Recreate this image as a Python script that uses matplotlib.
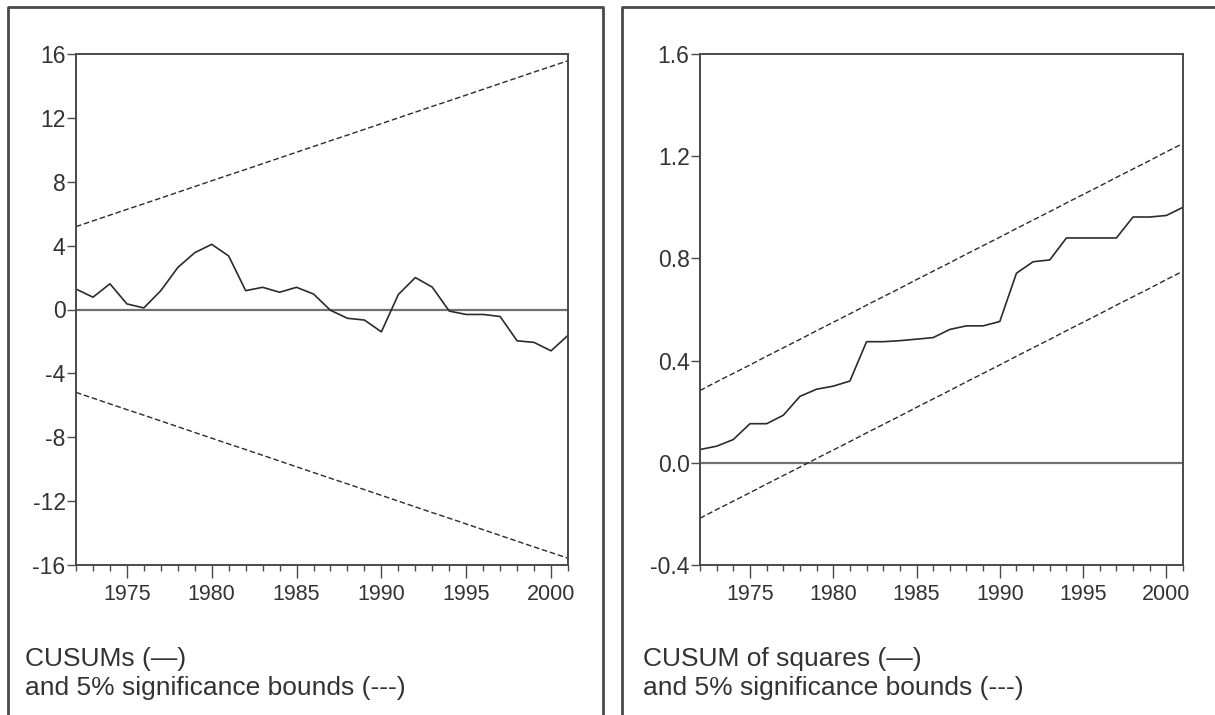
import matplotlib
matplotlib.use("Agg")
import matplotlib.pyplot as plt
from matplotlib.lines import Line2D
from matplotlib.ticker import MultipleLocator

plt.rcParams['font.family'] = ['Liberation Sans', 'DejaVu Sans']

years = list(range(1972, 2002))

# CUSUM test
cusum = [1.28, 0.77, 1.61, 0.35, 0.10, 1.18, 2.63, 3.56, 4.08, 3.35,
         1.18, 1.39, 1.08, 1.39, 0.97, -0.05, -0.55, -0.66, -1.40, 0.94,
         2.00, 1.40, -0.10, -0.31, -0.31, -0.44, -1.96, -2.06, -2.59, -1.62]
cusum_upper = [5.19, 5.55, 5.91, 6.27, 6.62, 6.98, 7.34, 7.70, 8.06, 8.42,
               8.77, 9.13, 9.49, 9.85, 10.21, 10.57, 10.92, 11.28, 11.64, 12.00,
               12.36, 12.72, 13.07, 13.43, 13.79, 14.15, 14.51, 14.87, 15.22, 15.58]
cusum_lower = [-5.19, -5.55, -5.91, -6.27, -6.62, -6.98, -7.34, -7.70, -8.06, -8.42,
               -8.77, -9.13, -9.49, -9.85, -10.21, -10.57, -10.92, -11.28, -11.64, -12.00,
               -12.36, -12.72, -13.07, -13.43, -13.79, -14.15, -14.51, -14.87, -15.22, -15.58]
cusum_ticks = [16, 12, 8, 4, 0, -4, -8, -12, -16]
cusum_ticklabels = ["16", "12", "8", "4", "0", "-4", "-8", "-12", "-16"]

# CUSUM of squares test
cusumsq = [0.052, 0.065, 0.091, 0.153, 0.153, 0.186, 0.260, 0.288, 0.300, 0.320,
           0.474, 0.474, 0.478, 0.484, 0.490, 0.522, 0.536, 0.536, 0.553, 0.742,
           0.787, 0.794, 0.880, 0.880, 0.880, 0.880, 0.962, 0.962, 0.968, 1.000]
sq_upper = [0.283, 0.317, 0.350, 0.383, 0.417, 0.450, 0.483, 0.517, 0.550, 0.583,
            0.617, 0.650, 0.683, 0.717, 0.750, 0.783, 0.817, 0.850, 0.883, 0.917,
            0.950, 0.983, 1.017, 1.050, 1.083, 1.117, 1.150, 1.183, 1.217, 1.250]
sq_lower = [-0.217, -0.183, -0.150, -0.117, -0.083, -0.050, -0.017, 0.017, 0.050, 0.083,
            0.117, 0.150, 0.183, 0.217, 0.250, 0.283, 0.317, 0.350, 0.383, 0.417,
            0.450, 0.483, 0.517, 0.550, 0.583, 0.617, 0.650, 0.683, 0.717, 0.750]
sq_ticks = [1.6, 1.2, 0.8, 0.4, 0.0, -0.4]
sq_ticklabels = ["1.6", "1.2", "0.8", "0.4", "0.0", "-0.4"]

x_ticks = [1975, 1980, 1985, 1990, 1995, 2000]

W, H = 1215, 715
fig = plt.figure(figsize=(W / 100, H / 100), dpi=100)

ink = "#2b2b2b"
frame_col = "#4a4a4a"


def px(x0, y0, x1, y1):
    # pixel box -> figure fraction [left, bottom, width, height]
    return [x0 / W, 1 - y1 / H, (x1 - x0) / W, (y1 - y0) / H]


def panel(rect, solid, upper, lower, ylim, yticks, yticklabels):
    ax = fig.add_axes(rect)
    ax.plot(years, solid, color=ink, lw=1.2)
    ax.plot(years, upper, color=ink, lw=1.0, ls=(0, (4, 2)))
    ax.plot(years, lower, color=ink, lw=1.0, ls=(0, (4, 2)))
    ax.axhline(0, color="#707070", lw=1.6, zorder=1)
    ax.set_xlim(1972, 2001)
    ax.set_ylim(*ylim)
    ax.set_yticks(yticks)
    ax.set_yticklabels(yticklabels)
    ax.set_xticks(x_ticks)
    ax.set_xticklabels([str(t) for t in x_ticks])
    ax.xaxis.set_minor_locator(MultipleLocator(1))
    ax.tick_params(axis="y", direction="out", length=6.5, width=1.0, pad=1,
                   labelsize=16.5, colors=frame_col, labelcolor="#333333")
    ax.tick_params(axis="x", which="major", direction="out", length=9, width=1.0,
                   pad=5, labelsize=15.5, colors=frame_col, labelcolor="#333333")
    ax.tick_params(axis="x", which="minor", direction="out", length=4.5, width=1.0,
                   colors=frame_col)
    for s in ax.spines.values():
        s.set_color(frame_col)
        s.set_linewidth(1.4)
    return ax


panel(px(76, 54, 568, 565), cusum, cusum_upper, cusum_lower,
      (-16, 16), cusum_ticks, cusum_ticklabels)
panel(px(700, 54, 1183, 565), cusumsq, sq_upper, sq_lower,
      (-0.4, 1.6), sq_ticks, sq_ticklabels)

# panel frames (open at the bottom)
def fline(xs, ys):
    fig.add_artist(Line2D([x / W for x in xs], [1 - y / H for y in ys],
                          color=frame_col, lw=2.0, transform=fig.transFigure))

fline([8, 8, 603, 603], [720, 7, 7, 720])
fline([622, 622, 1220], [720, 7, 7])

txt = dict(fontsize=19, color="#333333", va="baseline", ha="left")
fig.text(25 / W, 1 - 666 / H, "CUSUMs (\u2014)", **txt)
fig.text(25 / W, 1 - 695 / H, "and 5% significance bounds (---)", **txt)
fig.text(643 / W, 1 - 666 / H, "CUSUM of squares (\u2014)", **txt)
fig.text(643 / W, 1 - 695 / H, "and 5% significance bounds (---)", **txt)

fig.savefig("out.png", dpi=100, facecolor="white")
